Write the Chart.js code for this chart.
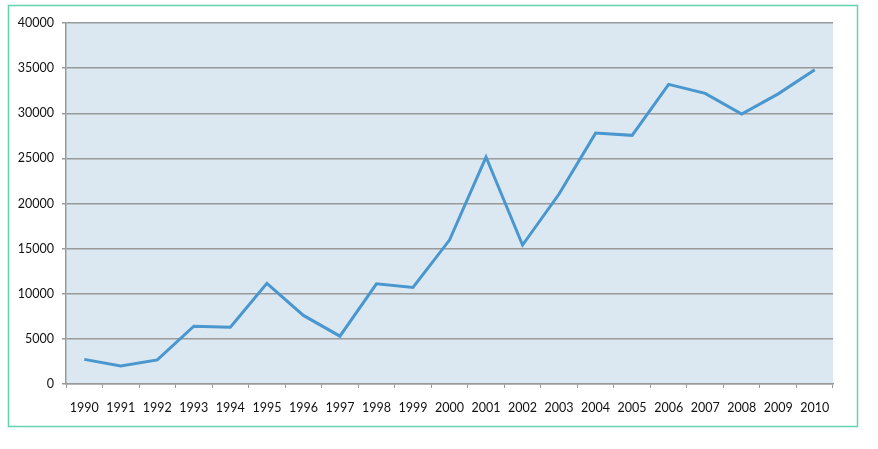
<!DOCTYPE html>
<html>
<head>
<meta charset="utf-8">
<script src="https://cdn.jsdelivr.net/npm/chart.js@4"></script>
<style>
html,body{margin:0;padding:0;background:#fff;}
#wrap{position:relative;width:878px;height:449px;}
</style>
</head>
<body>
<div id="wrap"><canvas id="c" width="878" height="449"></canvas></div>
<script>
const years = ['1990','1991','1992','1993','1994','1995','1996','1997','1998','1999','2000','2001','2002','2003','2004','2005','2006','2007','2008','2009','2010'];
const values = [2730, 2000, 2670, 6400, 6300, 11150, 7600, 5300, 11100, 10700, 15950, 25150, 15400, 21050, 27800, 27550, 33200, 32200, 29900, 32150, 34820];
const yMin = 0, yMax = 40000, yStep = 5000;

const frame = {
  id: 'frame',
  beforeDraw(chart) {
    const {ctx, chartArea: a} = chart;
    ctx.save();
    ctx.fillStyle = '#fff';
    ctx.fillRect(0, 0, chart.width, chart.height);
    ctx.fillStyle = '#dbe8f1';
    ctx.fillRect(a.left, a.top, a.right - a.left, a.bottom - a.top);
    ctx.strokeStyle = '#62d3b0';
    ctx.lineWidth = 1.5;
    ctx.strokeRect(8.5, 5.5, 849, 421);
    ctx.restore();
  }
};

new Chart(document.getElementById('c'), {
  type: 'line',
  data: {
    labels: years,
    datasets: [{
      data: values,
      borderColor: '#4a97cf',
      borderWidth: 3,
      pointRadius: 0,
      tension: 0,
      fill: false
    }]
  },
  options: {
    responsive: false,
    animation: false,
    devicePixelRatio: 1,
    layout: {padding: {left: 0, right: 45, top: 23, bottom: 0}},
    plugins: {legend: {display: false}, tooltip: {enabled: false}},
    scales: {
      x: {
        offset: true,
        grid: {offset: true, drawOnChartArea: false, tickLength: 4, color: '#9a9a9a', lineWidth: 1},
        border: {color: '#9a9a9a', width: 1.5},
        ticks: {color: '#111', font: {family: 'Lato', size: 12.5}, padding: 12, maxRotation: 0, autoSkip: false},
        afterFit(s) { s.height = 65; }
      },
      y: {
        min: yMin, max: yMax,
        grid: {color: '#9a9a9a', lineWidth: 1.5, tickLength: 4},
        border: {color: '#9a9a9a', width: 1.5},
        ticks: {stepSize: yStep, color: '#111', font: {family: 'Lato', size: 12.5}, padding: 8,
                callback: v => String(v)},
        afterFit(s) { s.width = 66; }
      }
    }
  },
  plugins: [frame]
});
</script>
</body>
</html>
